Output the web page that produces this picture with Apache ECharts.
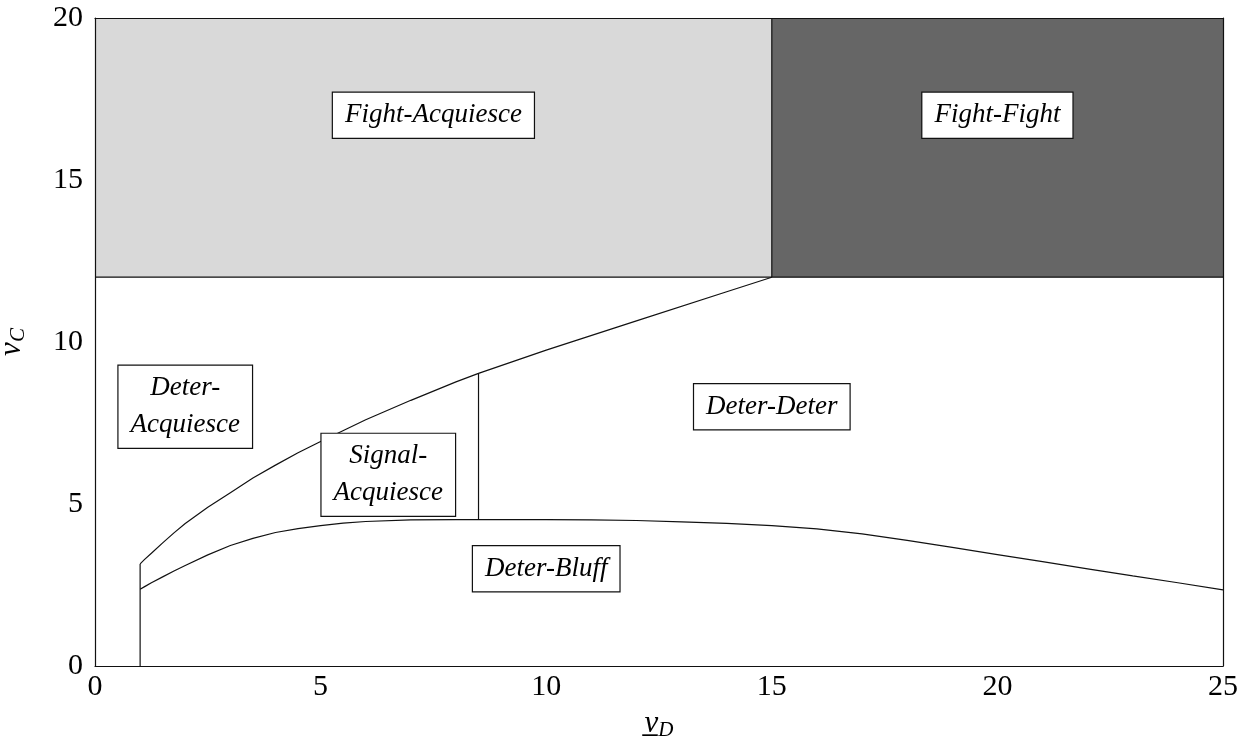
<!DOCTYPE html>
<html>
<head>
<meta charset="utf-8">
<script src="https://cdn.jsdelivr.net/npm/echarts@6/dist/echarts.min.js"></script>
<style>
  html, body { margin: 0; padding: 0; background: #fff; }
  #chart { width: 1246px; height: 748px; }
</style>
</head>
<body>
<div id="chart"></div>
<script>
// Axis ticks
const xTicks = [0, 5, 10, 15, 20, 25];
const yTicks = [0, 5, 10, 15, 20];

// Upper boundary: Deter-Acquiesce above, Signal/Deter below
const upperX = [1, 1.1, 1.25, 1.5, 1.75, 2, 2.5, 3, 3.5, 4, 4.5, 5, 6, 7, 8, 8.5, 10, 12, 14, 15];
const upperY = [3.15, 3.29, 3.48, 3.8, 4.11, 4.4, 4.9, 5.35, 5.8, 6.2, 6.58, 6.93, 7.6, 8.2, 8.77, 9.03, 9.75, 10.65, 11.55, 12.0];

// Lower boundary: Deter-Bluff region beneath
const lowerX = [1, 1.1, 1.25, 1.5, 1.75, 2, 2.5, 3, 3.5, 4, 4.5, 5, 5.5, 6, 7, 8, 9, 10, 11, 12, 13, 14, 15, 16, 17, 18, 19, 20, 21, 22, 23, 24, 25];
const lowerY = [2.37, 2.45, 2.57, 2.75, 2.93, 3.1, 3.43, 3.72, 3.94, 4.12, 4.24, 4.33, 4.41, 4.46, 4.51, 4.52, 4.52, 4.52, 4.51, 4.49, 4.45, 4.4, 4.33, 4.23, 4.08, 3.88, 3.66, 3.44, 3.22, 3.0, 2.78, 2.57, 2.35];

// Fight thresholds
const fightY = 12;
const fightX = 15;
const xMax = 25;
const yMax = 20;
// Left edge and signalling cut
const leftCutX = 1;
const signalCutX = 8.5;
const signalCutBottom = 4.52;
const signalCutTop = 9.03;

// Region labels
const regionNames = ['Fight-Acquiesce', 'Fight-Fight', 'Deter-\nAcquiesce', 'Signal-\nAcquiesce', 'Deter-Deter', 'Deter-Bluff'];
const regionX = [7.5, 20, 2, 6.5, 15, 10];
const regionY = [17, 17, 8, 5.9, 8, 3];

const pairs = (xs, ys) => xs.map((x, i) => [x, ys[i]]);
const lineStyle = { color: '#111', width: 1.2 };
const serif = '"Liberation Serif", "DejaVu Serif", serif';

const chart = echarts.init(document.getElementById('chart'), null, { renderer: 'canvas' });

const baseX = {
  type: 'value', min: 0, max: xMax, interval: 5, z: 10,
  axisLine: { show: true, onZero: false, lineStyle: { color: '#111', width: 1.2 } },
  axisTick: { show: false }, splitLine: { show: false }
};
const baseY = {
  type: 'value', min: 0, max: yMax, interval: 5, z: 10,
  axisLine: { show: true, onZero: false, lineStyle: { color: '#111', width: 1.2 } },
  axisTick: { show: false }, splitLine: { show: false }
};

function lineSeries(data) {
  return {
    type: 'line', data: data, symbol: 'none', smooth: false,
    lineStyle: lineStyle, silent: true, z: 4, animation: false
  };
}

const nameRich = {
  v: { fontFamily: serif, fontStyle: 'italic', fontSize: 31, color: '#000' },
  s: { fontFamily: serif, fontStyle: 'italic', fontSize: 21, color: '#000', padding: [14, 0, 0, 0] }
};

chart.setOption({
  animation: false,
  grid: { left: 95, right: 23, top: 18, bottom: 82, containLabel: false, outerBoundsMode: 'none' },
  xAxis: [
    Object.assign({}, baseX, {
      position: 'bottom',
      name: '{v|v\u0332}{s|D}', nameLocation: 'middle', nameGap: 40,
      nameTextStyle: { rich: nameRich },
      axisLabel: { show: true, fontFamily: serif, fontSize: 30, color: '#000', margin: 6,
        formatter: v => xTicks.includes(v) ? String(v) : '' }
    }),
    Object.assign({}, baseX, { position: 'top', axisLabel: { show: false } })
  ],
  yAxis: [
    Object.assign({}, baseY, {
      position: 'left',
      name: '{v|v}{s|C}', nameLocation: 'middle', nameGap: 66, nameRotate: 90,
      nameTextStyle: { rich: nameRich },
      axisLabel: { show: true, fontFamily: serif, fontSize: 30, color: '#000', margin: 12,
        formatter: v => yTicks.includes(v) ? String(v) : '' }
    }),
    Object.assign({}, baseY, { position: 'right', axisLabel: { show: false } })
  ],
  series: [
    {
      // shaded Fight regions
      type: 'line', data: [], silent: true, z: 1,
      markArea: {
        silent: true,
        data: [
          [{ xAxis: 0, yAxis: fightY, itemStyle: { color: '#d9d9d9', opacity: 1 } }, { xAxis: fightX, yAxis: yMax }],
          [{ xAxis: fightX, yAxis: fightY, itemStyle: { color: '#666666', opacity: 1 } }, { xAxis: xMax, yAxis: yMax }]
        ]
      }
    },
    lineSeries([[0, fightY], [xMax, fightY]]),
    lineSeries([[fightX, fightY], [fightX, yMax]]),
    lineSeries(pairs(upperX, upperY)),
    lineSeries(pairs(lowerX, lowerY)),
    lineSeries([[leftCutX, 0], [leftCutX, upperY[0]]]),
    lineSeries([[signalCutX, signalCutBottom], [signalCutX, signalCutTop]]),
    {
      type: 'scatter', symbolSize: 0, z: 6, silent: true,
      itemStyle: { color: 'transparent', opacity: 1 },
      data: regionNames.map((n, i) => ({ value: [regionX[i], regionY[i]], name: n })),
      label: {
        show: true, position: 'inside', align: 'center', verticalAlign: 'middle',
        formatter: p => p.name,
        fontFamily: serif, fontStyle: 'italic', fontSize: 27, color: '#000',
        lineHeight: 37,
        backgroundColor: '#fff', borderColor: '#111', borderWidth: 1.2,
        padding: [4, 12, 4, 12]
      },
      labelLayout: { hideOverlap: false }
    }
  ]
});
</script>
</body>
</html>
